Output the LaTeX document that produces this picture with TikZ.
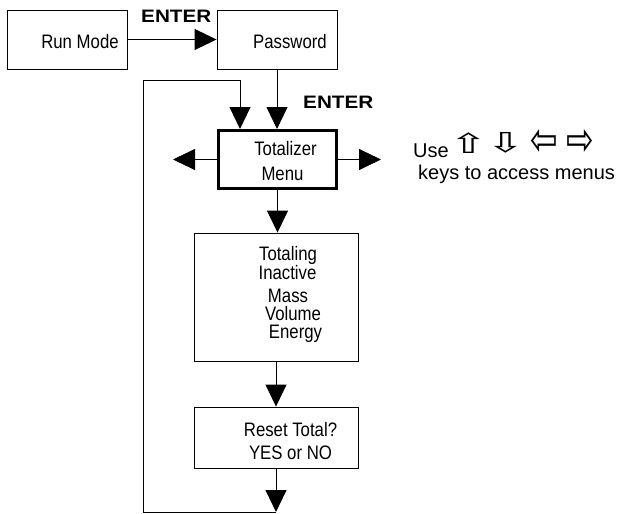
\documentclass[tikz,border=0pt]{standalone}
\usepackage{fontspec}
\usepackage{graphicx}
\setmainfont{Liberation Sans}
\newfontfamily\narrowfont[FakeStretch=0.86]{Liberation Sans}
\newfontfamily\enterfont[FakeStretch=1.15]{Liberation Sans}
\newfontfamily\arrowfont{DejaVu Sans}
\usetikzlibrary{arrows.meta}
\begin{document}
\begin{tikzpicture}[x=1pt,y=-1pt,
  box/.style={draw, line width=0.9pt, rectangle, inner sep=0pt, align=center,
    font=\narrowfont\fontsize{19.5}{23}\selectfont},
  flow/.style={line width=0.9pt, -{Triangle[length=22pt,width=21pt]}},
  enterlbl/.style={font=\enterfont\bfseries\fontsize{18}{20}\selectfont, inner sep=0pt, anchor=base west},
  note/.style={font=\fontsize{20}{22}\selectfont, inner sep=0pt, anchor=base west},
  keysym/.style={font=\arrowfont\fontsize{22}{24}\selectfont, inner sep=0pt}]
\useasboundingbox (0,0) rectangle (627,514);

\node[box, minimum width=120pt, minimum height=59pt, text height=19pt] (run) at (67,39.5) {\hspace*{26pt}Run Mode};
\node[box, minimum width=120pt, minimum height=59pt, text height=19pt] (pass) at (277,39.5) {\hspace*{26pt}Password};
\node[box, line width=3pt, minimum width=118pt, minimum height=58pt, text height=43pt] (tot) at (277.5,159.5)
  {\hspace*{16pt}Totalizer\\[2pt]\hspace*{10pt}Menu};
\node[box, minimum width=164pt, minimum height=128pt, text height=88pt] (opts) at (276,297)
  {\hspace*{24pt}Totaling\\[-4pt]\hspace*{23pt}Inactive\\[0pt]\hspace*{24pt}Mass\\[-5pt]\hspace*{34pt}Volume\\[-5pt]\hspace*{39pt}Energy};
\node[box, minimum width=164pt, minimum height=61pt, text height=45pt] (reset) at (276,437.5)
  {\hspace*{29pt}Reset Total?\\\hspace*{29pt}YES or NO};

\coordinate (lt) at (143,80);
\coordinate (lb) at (143,512);
\coordinate (rt) at (240,80);
\coordinate (lefttip) at (173,159.5);
\coordinate (righttip) at (381,159.5);

\draw[flow] (run) -- (pass);
\node[enterlbl] (enter1) at (141,23) {ENTER};
\draw[flow] (pass.south) -- (pass.south |- tot.north);
\node[enterlbl] (enter2) at (303,108) {ENTER};
\draw[flow] (tot.west) -- (lefttip);
\draw[flow] (tot.east) -- (righttip);
\draw[flow] (tot.south) -- (tot.south |- opts.north);
\draw[flow] (opts) -- (reset);
\draw[flow] (reset.south) -- (reset.south |- lb);
\draw[flow] (reset.south |- lb) -- (lb) -- (lt) -- (rt) -- (rt |- tot.north);

\node[note] (use) at (413,157) {Use};
\node[keysym] (kup) at (468.5,143) {\scalebox{2.1}[1.25]{⇧}};
\node[keysym] (kdown) at (505.5,143) {\scalebox{2.1}[1.25]{⇩}};
\node[keysym] (kleft) at (544,143) {\scalebox{1.5}[2.1]{⇦}};
\node[keysym] (kright) at (580.5,143) {\scalebox{1.5}[2.1]{⇨}};
\node[note] (keys) at (418,179) {keys to access menus};
\end{tikzpicture}
\end{document}
